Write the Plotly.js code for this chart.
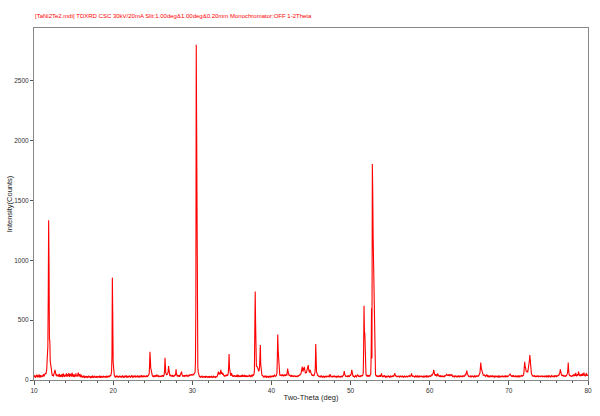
<!DOCTYPE html>
<html>
<head>
<meta charset="utf-8">
<script src="https://cdn.plot.ly/plotly-3.0.1.min.js"></script>
<style>html,body{margin:0;padding:0;background:#fff;}#chart{width:600px;height:416px;}</style>
</head>
<body>
<div id="chart"></div>
<script>
// Scan settings (2θ from 10 to 80 deg, step 0.05 deg)
const startAngle = 10;
const stepAngle = 0.05;

const counts = [
/*10*/ 32,25,41,28,19,35,30,44,27,22,38,31,24,46,29,21,33,40,26,30,
/*11*/ 36,28,42,33,47,30,39,52,44,58,50,66,80,150,260,280,700,1335,950,340,
/*12*/ 330,160,130,90,62,48,40,35,44,30,38,52,70,85,58,42,36,49,31,40,
/*13*/ 33,45,28,39,51,30,26,42,37,29,48,34,25,40,55,31,36,27,44,38,
/*14*/ 30,42,56,35,28,47,39,33,58,41,26,37,50,32,45,29,61,36,40,27,
/*15*/ 34,48,31,26,43,37,55,30,39,28,46,33,62,41,29,36,50,32,25,44,
/*16*/ 28,22,35,19,30,26,38,24,17,31,27,21,34,25,29,18,32,23,36,26,
/*17*/ 20,31,24,28,16,33,25,22,37,27,19,30,23,35,26,21,29,18,32,24,
/*18*/ 27,19,33,24,30,21,36,25,18,29,34,22,26,31,20,28,35,23,30,25,
/*19*/ 22,30,26,35,19,28,33,24,31,27,36,25,29,40,34,48,70,200,855,550,
/*20*/ 150,62,45,38,30,26,34,22,29,37,24,31,27,20,33,25,36,28,23,30,
/*21*/ 26,33,21,29,38,24,31,19,27,35,23,30,26,39,22,28,32,20,34,27,
/*22*/ 31,24,36,28,21,33,26,40,23,30,18,35,27,25,32,29,37,22,28,34,
/*23*/ 25,30,38,22,27,34,29,21,36,26,31,24,40,28,33,23,30,26,35,29,
/*24*/ 28,34,25,31,38,27,33,29,36,30,41,50,120,236,180,100,72,55,44,38,
/*25*/ 33,29,37,26,31,35,28,40,32,27,45,38,30,34,25,36,29,33,27,31,
/*26*/ 30,36,27,33,40,29,35,31,38,45,80,186,120,60,48,42,50,45,55,70,
/*27*/ 117,75,52,40,34,45,30,38,29,36,42,33,27,39,31,35,44,37,50,89,
/*28*/ 55,38,31,42,29,36,33,40,27,35,45,38,50,70,45,34,30,39,28,36,
/*29*/ 32,40,29,37,34,43,30,38,35,28,41,36,44,33,39,46,37,42,48,40,
/*30*/ 45,38,50,42,48,55,52,65,150,600,2800,1760,700,330,110,65,45,38,30,27,
/*31*/ 24,31,20,28,35,22,27,18,30,25,33,21,26,29,19,32,24,28,22,30,
/*32*/ 27,21,33,25,18,29,24,31,20,34,26,22,28,19,32,25,30,23,27,21,
/*33*/ 25,30,28,34,40,52,70,48,55,62,45,58,84,60,50,66,48,42,55,38,
/*34*/ 32,40,28,36,30,45,33,38,42,35,50,60,120,217,100,62,45,40,36,58,
/*35*/ 48,35,30,38,27,33,41,29,36,31,26,39,34,28,44,32,25,37,30,35,
/*36*/ 29,36,33,26,40,31,28,45,34,27,38,30,42,25,35,32,29,39,27,33,
/*37*/ 31,26,37,30,43,28,34,25,36,40,32,29,38,45,35,42,50,80,300,740,
/*38*/ 480,150,110,118,100,108,95,82,72,85,110,200,292,130,84,60,42,35,40,30,
/*39*/ 26,33,22,29,37,24,30,19,27,35,23,31,26,20,34,28,24,36,21,29,
/*40*/ 27,34,24,30,38,26,32,29,41,35,28,37,33,45,60,200,380,250,195,90,
/*41*/ 52,44,38,45,36,42,33,48,39,35,44,31,40,37,46,34,41,38,49,36,
/*42*/ 60,95,70,48,40,34,44,30,37,28,35,41,29,33,38,26,31,36,29,34,
/*43*/ 30,26,35,28,33,24,31,37,29,40,34,45,38,52,48,60,72,95,111,80,
/*44*/ 70,100,85,110,75,60,55,65,58,70,80,95,110,125,90,70,62,75,84,70,
/*45*/ 55,48,40,45,36,42,38,33,41,50,62,120,300,180,70,48,40,34,38,30,
/*46*/ 27,33,24,30,36,22,29,34,26,31,20,28,35,25,32,23,30,27,33,26,
/*47*/ 29,24,32,27,35,30,22,38,48,40,31,26,34,28,23,30,36,25,29,33,
/*48*/ 26,31,23,35,28,21,33,27,30,24,36,29,25,32,20,28,34,26,31,27,
/*49*/ 30,35,42,55,75,50,38,32,27,34,29,36,24,31,38,27,33,29,36,40,
/*50*/ 35,42,60,84,55,40,33,28,36,31,25,34,29,37,30,26,33,38,45,36,
/*51*/ 30,27,36,32,25,38,29,34,40,31,36,42,60,250,620,400,390,120,62,45,
/*52*/ 38,31,42,35,28,36,33,40,30,37,44,50,200,600,180,1805,1570,1200,950,920,
/*53*/ 360,120,62,45,38,32,40,28,35,30,26,37,33,29,41,34,27,38,56,40,
/*54*/ 32,28,36,25,31,39,27,33,24,30,35,22,29,34,26,31,37,28,24,32,
/*55*/ 27,33,29,24,35,30,26,38,31,28,40,45,56,42,33,29,36,25,31,28,
/*56*/ 30,25,34,28,22,31,36,27,33,24,29,35,26,32,21,28,34,30,25,31,
/*57*/ 26,32,28,35,24,30,27,33,38,29,25,36,31,42,56,40,30,27,34,29,
/*58*/ 31,27,24,33,29,36,26,30,22,34,28,32,25,37,30,24,33,27,35,29,
/*59*/ 25,33,28,22,31,36,27,30,24,34,29,26,38,31,27,35,30,24,32,37,
/*60*/ 30,35,28,40,33,45,38,42,50,60,84,58,45,38,42,35,48,40,33,37,
/*61*/ 55,42,36,30,38,27,33,29,35,31,26,37,30,28,34,25,32,38,29,35,
/*62*/ 31,36,42,47,38,44,35,40,46,33,39,48,41,36,44,37,47,33,29,35,
/*63*/ 28,34,25,31,37,27,33,29,24,35,30,26,32,38,28,23,31,36,27,33,
/*64*/ 30,26,35,29,33,38,31,27,36,42,45,38,50,60,78,55,42,36,31,34,
/*65*/ 28,33,26,31,37,24,30,35,27,32,29,25,34,30,38,26,31,28,35,29,
/*66*/ 32,27,35,30,38,34,45,60,100,145,110,90,70,55,48,42,37,45,34,40,
/*67*/ 36,30,38,42,45,33,29,36,31,27,34,30,26,33,38,28,32,25,30,35,
/*68*/ 29,33,27,24,31,36,28,32,25,30,35,27,22,31,34,26,29,33,24,30,
/*69*/ 27,32,25,30,36,28,24,33,29,35,26,31,38,27,30,34,25,32,29,36,
/*70*/ 33,38,45,50,42,36,40,31,35,28,33,39,30,26,34,29,32,36,27,31,
/*71*/ 28,34,30,25,33,37,29,32,26,35,31,38,30,34,40,33,37,42,60,90,
/*72*/ 153,120,95,80,70,75,68,72,70,90,110,140,165,209,150,110,70,54,45,38,
/*73*/ 35,30,38,33,27,36,31,29,34,26,32,37,28,33,30,25,35,29,32,27,
/*74*/ 31,26,34,29,37,28,24,32,30,35,27,33,29,25,36,31,28,34,30,26,
/*75*/ 33,29,36,27,31,25,34,30,38,28,32,26,35,31,27,33,29,37,30,34,
/*76*/ 28,35,31,38,33,40,36,45,50,62,89,60,48,42,38,45,35,40,33,37,
/*77*/ 30,36,28,34,40,31,37,42,55,80,145,90,50,38,33,40,35,29,36,31,
/*78*/ 34,40,31,45,37,52,33,42,36,60,38,31,44,35,48,39,70,42,36,33,
/*79*/ 38,45,33,50,36,41,55,34,47,39,62,36,43,31,49,38,57,35,44,40,
/*80*/ 36
];

const xTickValues = [10, 20, 30, 40, 50, 60, 70, 80];
const yTickValues = [0, 500, 1000, 1500, 2000, 2500];

const chartTitle = "[TaNi2Te2.mdi] TDXRD CSC 30kV/20mA Slit:1.00deg&1.00deg&0.20mm Monochromator:OFF 1-2Theta";
const xTitle = "Two-Theta (deg)";
const yTitle = "Intensity(Counts)";

const twoTheta = counts.map((_, i) => Math.round((startAngle + i * stepAngle) * 100) / 100);

const font = "Liberation Sans, Arial, sans-serif";

const trace = {
  x: twoTheta,
  y: counts,
  type: "scatter",
  mode: "lines",
  line: { color: "#ff0000", width: 1.1 },
  hoverinfo: "x+y"
};

const layout = {
  width: 600,
  height: 416,
  margin: { l: 34, r: 12, t: 28, b: 36 },
  paper_bgcolor: "#ffffff",
  plot_bgcolor: "#ffffff",
  showlegend: false,
  title: {
    text: chartTitle,
    font: { family: font, size: 6, color: "#ff0000" },
    x: 35 / 600, xanchor: "left", xref: "container",
    y: 1 - 16 / 416, yanchor: "middle", yref: "container"
  },
  xaxis: {
    range: [10, 80],
    tickvals: xTickValues,
    ticktext: xTickValues.map(String),
    ticks: "outside",
    ticklen: 4,
    tickcolor: "#555",
    tickfont: { family: font, size: 6.5, color: "#333" },
    showgrid: false,
    zeroline: false,
    showline: true,
    linecolor: "#888",
    linewidth: 1,
    mirror: true,
    minor: { dtick: 2, tick0: 10, ticks: "outside", ticklen: 2, tickcolor: "#555", showgrid: false },
    title: { text: xTitle, font: { family: font, size: 7.5, color: "#222" }, standoff: 1 }
  },
  yaxis: {
    range: [0, 2940],
    tickvals: yTickValues,
    ticktext: yTickValues.map(String),
    ticks: "outside",
    ticklen: 3,
    tickcolor: "#555",
    tickfont: { family: font, size: 6.5, color: "#333" },
    showgrid: false,
    zeroline: false,
    showline: true,
    linecolor: "#888",
    linewidth: 1,
    mirror: true,
    title: { text: yTitle, font: { family: font, size: 7.5, color: "#222" }, standoff: 0 }
  }
};

Plotly.newPlot("chart", [trace], layout, { displayModeBar: false, staticPlot: true });
</script>
</body>
</html>
